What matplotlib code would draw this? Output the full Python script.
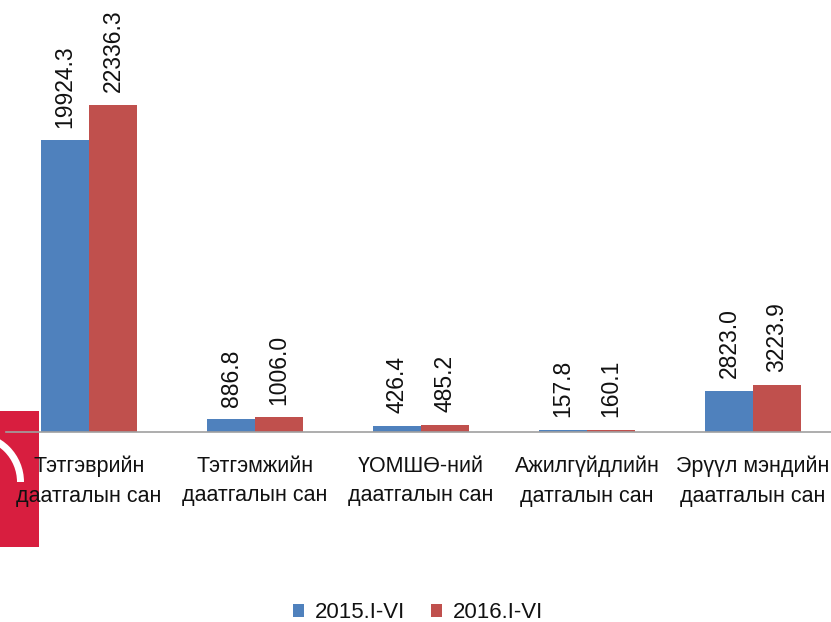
import matplotlib
matplotlib.use('Agg')
import matplotlib.pyplot as plt
from matplotlib.patches import Rectangle, Wedge, Patch

# data

CATEGORIES = ['Тэтгэврийн\nдаатгалын сан',
              'Тэтгэмжийн\nдаатгалын сан',
              'ҮОМШӨ-ний\nдаатгалын сан',
              'Ажилгүйдлийн\nдатгалын сан',
              'Эрүүл мэндийн\nдаатгалын сан']
SERIES = ['2015.I-VI', '2016.I-VI']
VALUES_2015 = [19924.3, 886.8, 426.4, 157.8, 2823.0]
VALUES_2016 = [22336.3, 1006.0, 485.2, 160.1, 3223.9]

BLUE = '#4f81bd'
RED = '#c0504d'
TEXT = '#111111'

plt.rcParams['font.family'] = ['Liberation Sans', 'DejaVu Sans']

W, H = 831, 622
fig = plt.figure(figsize=(W / 100, H / 100), dpi=100)

# background overlay (red logo fragment at lower left), drawn in pixel coords

bg = fig.add_axes([0, 0, 1, 1], zorder=0)
bg.set_xlim(0, W)
bg.set_ylim(H, 0)
bg.axis('off')
bg.add_patch(Rectangle((0, 411), 39, 136, facecolor='#d81e3f', edgecolor='none'))
bg.add_patch(Wedge((-26, 482), 50, 270, 360, width=7, facecolor='white', edgecolor='none'))

# main bar chart

ax = fig.add_axes([6 / W, (H - 432) / H, 830 / W, 372 / H], zorder=1)
ax.patch.set_alpha(0)

x = list(range(len(CATEGORIES)))
bw = 0.289
bars1 = ax.bar([i - bw / 2 for i in x], VALUES_2015, bw, color=BLUE, label=SERIES[0])
bars2 = ax.bar([i + bw / 2 for i in x], VALUES_2016, bw, color=RED, label=SERIES[1])

for bars, vals in ((bars1, VALUES_2015), (bars2, VALUES_2016)):
    for b, v in zip(bars, vals):
        ax.annotate('%.1f' % v, (b.get_x() + b.get_width() / 2, v),
                    xytext=(0, 9), textcoords='offset points',
                    rotation=90, ha='center', va='bottom',
                    fontsize=16.5, color=TEXT, annotation_clip=False)

ax.set_xlim(-0.5, 4.5)
ax.set_ylim(0, 25410)
ax.set_xticks(x)
ax.set_xticklabels(CATEGORIES, fontsize=15.5, color=TEXT, linespacing=1.55)
ax.tick_params(axis='x', length=0, pad=17)
ax.set_yticks([])

for side in ('top', 'right', 'left'):
    ax.spines[side].set_visible(False)
ax.spines['bottom'].set_color('#a0a0a0')
ax.spines['bottom'].set_linewidth(1.2)

handles = [Patch(facecolor=BLUE), Patch(facecolor=RED)]
fig.legend(handles, SERIES, loc='center', bbox_to_anchor=(418 / W, 1 - 613 / H),
           ncol=2, frameon=False, fontsize=16, handlelength=0.5, handleheight=0.5,
           handletextpad=0.45, columnspacing=1.2, labelcolor=TEXT)

fig.savefig('out.png', dpi=100)
